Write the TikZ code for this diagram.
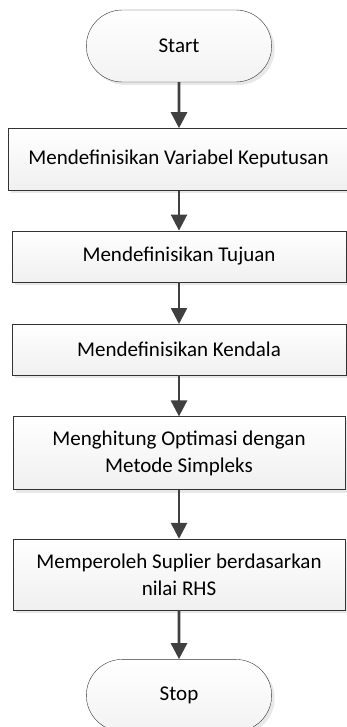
\documentclass[tikz,border=0pt]{standalone}
\usepackage{fontspec}
\setmainfont{Carlito}
\usepackage{xcolor}
\usepackage{tikz}
\usetikzlibrary{arrows.meta,positioning,shapes.misc,shadows}
\definecolor{arrowgray}{HTML}{404040}
\tikzset{
  flowterm/.style={rounded rectangle, draw=black!80, thin, top color=white, bottom color=gray!10, align=center, minimum width=192pt, minimum height=72pt, font=\fontsize{21}{27}\selectfont, drop shadow={shadow xshift=3pt, shadow yshift=-3pt, fill=gray!35}},
  flowproc/.style={rectangle, draw=black!80, thin, top color=white, bottom color=gray!12, align=center, minimum width=334pt, minimum height=51pt, font=\fontsize{21}{27}\selectfont, drop shadow={shadow xshift=3pt, shadow yshift=-3pt, fill=gray!35}},
  flowarrow/.style={-{Triangle[length=16pt, width=16pt]}, line width=2.6pt, draw=arrowgray, color=arrowgray}
}
\begin{document}
\begin{tikzpicture}[node distance=42pt]
\useasboundingbox (0,0) rectangle (347pt,-727pt);
\node[flowterm] (start) at (179pt,-46pt) {Start};
\node[flowproc, minimum width=341pt, minimum height=62pt, below=46pt of start, xshift=-0.5pt] (vars) {Mendefinisikan Variabel Keputusan};
\node[flowproc, below=40pt of vars, xshift=0.5pt] (goal) {Mendefinisikan Tujuan};
\node[flowproc, below=of goal] (limit) {Mendefinisikan Kendala};
\node[flowproc, minimum height=73pt, minimum width=332pt, below=41pt of limit] (simplex) {Menghitung Optimasi dengan\\Metode Simpleks};
\node[flowproc, minimum height=71pt, minimum width=332pt, below=49pt of simplex] (rhs) {Memperoleh Suplier berdasarkan\\nilai RHS};
\node[flowterm, below=49pt of rhs] (stop) {Stop};
\draw[flowarrow] (start) -- (start |- vars.north);
\draw[flowarrow] (start |- vars.south) -- (start |- goal.north);
\draw[flowarrow] (start |- goal.south) -- (start |- limit.north);
\draw[flowarrow] (start |- limit.south) -- (start |- simplex.north);
\draw[flowarrow] (start |- simplex.south) -- (start |- rhs.north);
\draw[flowarrow] (start |- rhs.south) -- (stop);
\end{tikzpicture}
\end{document}
